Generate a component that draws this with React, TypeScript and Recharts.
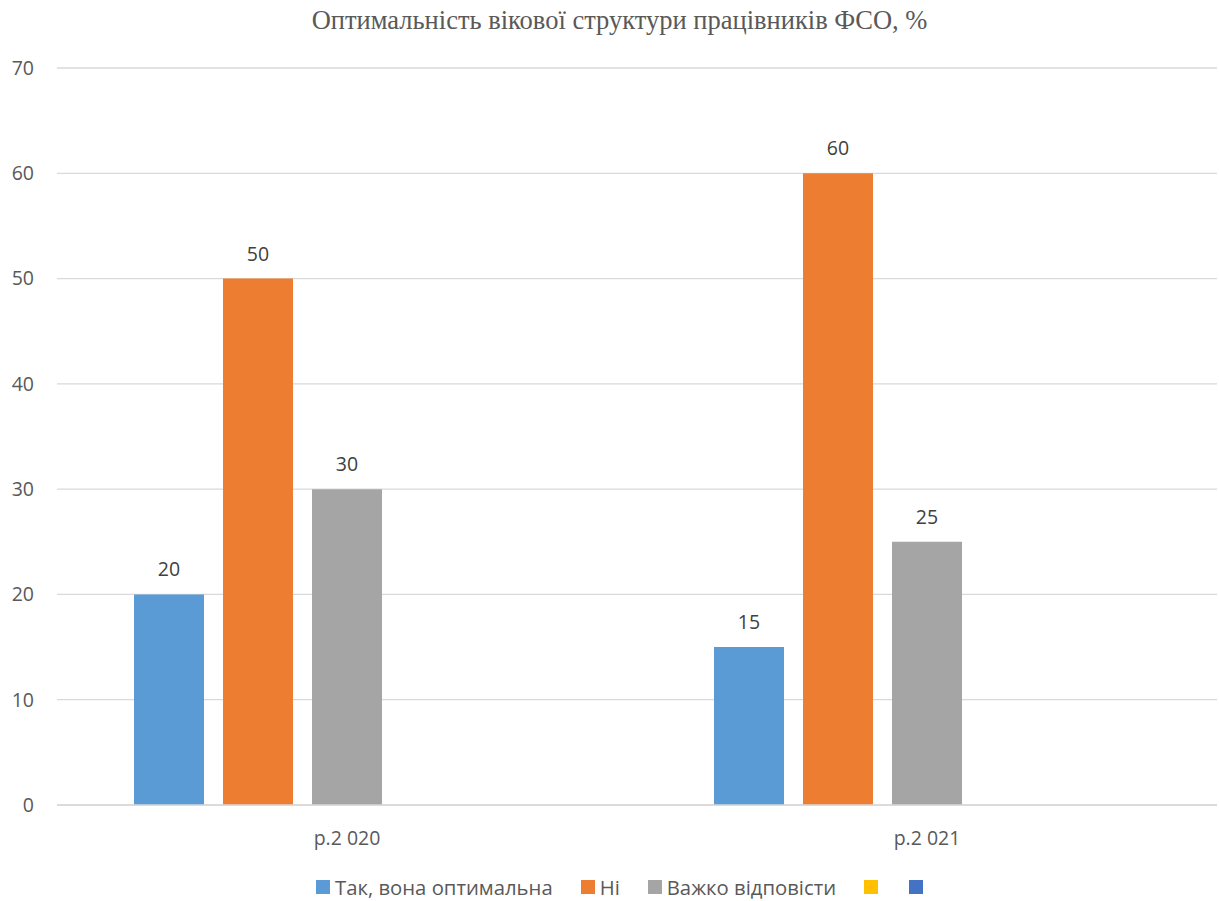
import React from "react";
import { BarChart, Bar, XAxis, YAxis, CartesianGrid, LabelList } from "recharts";

const categories = ["р.2 020", "р.2 021"];
const yesOptimal = [20, 15];
const no = [50, 60];
const hardToSay = [30, 25];
const emptyA: (number | null)[] = [null, null];
const emptyB: (number | null)[] = [null, null];
const yTicks = [0, 10, 20, 30, 40, 50, 60, 70];

const seriesNames = ["Так, вона оптимальна", "Ні", "Важко відповісти", "", ""];
const seriesColors = ["#5B9BD5", "#ED7D31", "#A5A5A5", "#FFC000", "#4472C4"];

const data = categories.map((c, i) => ({
  year: c,
  s0: yesOptimal[i],
  s1: no[i],
  s2: hardToSay[i],
  s3: emptyA[i],
  s4: emptyB[i],
}));

const FONT = "'Open Sans', 'Noto Sans', sans-serif";
const TEXT = "#595959";

export default function App() {
  return (
    <div style={{ position: "absolute", left: 0, top: 0, width: 1219, height: 901, background: "#fff" }}>
      <div
        style={{
          position: "absolute",
          left: 0,
          top: 5,
          width: 1239,
          textAlign: "center",
          fontFamily: "'Liberation Serif', 'Times New Roman', serif",
          fontSize: 26.5,
          lineHeight: "30px",
          color: TEXT,
          whiteSpace: "nowrap",
        }}
      >
        Оптимальність вікової структури працівників ФСО, %
      </div>
      <BarChart
        width={1219}
        height={901}
        data={data}
        margin={{ top: 68, right: 2, bottom: 66, left: 0 }}
        barCategoryGap={77}
        barGap={19}
      >
        <CartesianGrid vertical={false} stroke="#D9D9D9" strokeWidth={1.3} />
        <XAxis
          dataKey="year"
          axisLine={{ stroke: "#D9D9D9", strokeWidth: 1.3 }}
          tickLine={false}
          tickSize={0}
          tickMargin={26}
          height={30}
          tick={{ fill: TEXT, fontSize: 19.5, fontFamily: FONT }}
        />
        <YAxis
          domain={[0, 70]}
          ticks={yTicks}
          axisLine={false}
          tickLine={false}
          tickSize={0}
          tickMargin={23}
          width={57}
          tick={{ fill: TEXT, fontSize: 19.5, fontFamily: FONT }}
        />
        {seriesColors.map((color, i) => (
          <Bar key={i} dataKey={`s${i}`} name={seriesNames[i]} fill={color} isAnimationActive={false}>
            {i < 3 && (
              <LabelList
                dataKey={`s${i}`}
                position="top"
                offset={18}
                fill="#404040"
                fontSize={19.5}
                fontFamily={FONT}
              />
            )}
          </Bar>
        ))}
      </BarChart>
      <div
        style={{
          position: "absolute",
          left: 316,
          top: 872,
          height: 29,
          display: "flex",
          alignItems: "center",
          fontFamily: FONT,
          fontSize: 20.3,
          color: TEXT,
          whiteSpace: "nowrap",
        }}
      >
        {seriesNames.map((name, i) => (
          <div key={i} style={{ display: "flex", alignItems: "center", marginRight: i === 3 ? 31 : 28 }}>
            <span style={{ display: "inline-block", width: 14, height: 14, background: seriesColors[i] }} />
            {name && <span style={{ marginLeft: 5 }}>{name}</span>}
          </div>
        ))}
      </div>
    </div>
  );
}
